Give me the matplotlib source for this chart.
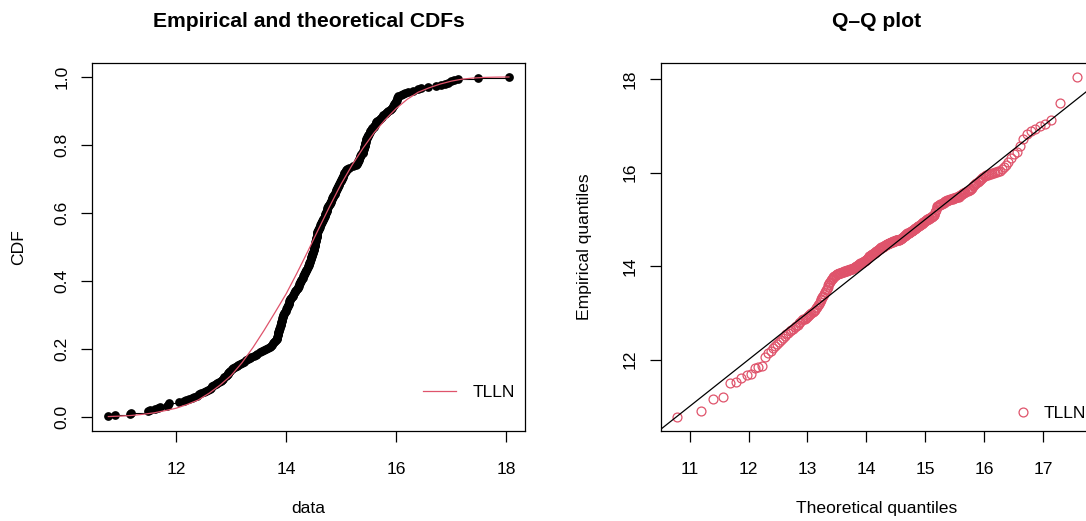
import numpy as np
import matplotlib
matplotlib.use("Agg")
import matplotlib.pyplot as plt

plt.rcParams["font.family"] = ["Liberation Sans", "DejaVu Sans"]

red = "#DF536B"

# sorted sample (read from the ECDF / Q-Q points)
data = [
    10.77, 10.89, 11.16, 11.19, 11.49, 11.52, 11.61, 11.68, 11.70, 11.83,
    11.85, 11.87, 12.05, 12.14, 12.19, 12.24, 12.29, 12.33, 12.38, 12.42,
    12.46, 12.50, 12.54, 12.58, 12.61, 12.63, 12.66, 12.69, 12.72, 12.75,
    12.78, 12.81, 12.84, 12.86, 12.88, 12.90, 12.92, 12.94, 12.95, 12.97,
    12.99, 13.02, 13.04, 13.07, 13.10, 13.13, 13.17, 13.20, 13.23, 13.27,
    13.30, 13.34, 13.37, 13.41, 13.45, 13.48, 13.52, 13.56, 13.59, 13.63,
    13.67, 13.70, 13.72, 13.74, 13.76, 13.78, 13.80, 13.81, 13.83, 13.84,
    13.84, 13.85, 13.85, 13.86, 13.86, 13.87, 13.87, 13.88, 13.89, 13.89,
    13.90, 13.90, 13.91, 13.91, 13.92, 13.92, 13.93, 13.94, 13.94, 13.95,
    13.96, 13.97, 13.98, 13.99, 14.00, 14.01, 14.02, 14.03, 14.04, 14.05,
    14.06, 14.06, 14.07, 14.08, 14.09, 14.10, 14.12, 14.13, 14.14, 14.16,
    14.17, 14.18, 14.19, 14.21, 14.22, 14.23, 14.24, 14.25, 14.26, 14.27,
    14.28, 14.29, 14.30, 14.31, 14.32, 14.33, 14.34, 14.35, 14.36, 14.37,
    14.38, 14.39, 14.40, 14.41, 14.42, 14.42, 14.43, 14.44, 14.45, 14.45,
    14.46, 14.47, 14.47, 14.48, 14.49, 14.49, 14.50, 14.50, 14.51, 14.51,
    14.52, 14.52, 14.53, 14.53, 14.54, 14.54, 14.55, 14.55, 14.56, 14.56,
    14.56, 14.57, 14.57, 14.58, 14.58, 14.59, 14.60, 14.61, 14.62, 14.63,
    14.64, 14.65, 14.66, 14.67, 14.68, 14.69, 14.70, 14.70, 14.71, 14.72,
    14.73, 14.74, 14.75, 14.75, 14.76, 14.77, 14.78, 14.79, 14.80, 14.81,
    14.82, 14.83, 14.84, 14.85, 14.86, 14.87, 14.88, 14.89, 14.90, 14.91,
    14.92, 14.93, 14.94, 14.95, 14.96, 14.97, 14.98, 14.99, 15.00, 15.01,
    15.02, 15.03, 15.04, 15.05, 15.06, 15.07, 15.08, 15.09, 15.10, 15.15,
    15.21, 15.27, 15.28, 15.29, 15.30, 15.31, 15.32, 15.33, 15.34, 15.35,
    15.36, 15.37, 15.39, 15.40, 15.40, 15.41, 15.42, 15.42, 15.43, 15.43,
    15.44, 15.44, 15.45, 15.45, 15.46, 15.47, 15.47, 15.48, 15.49, 15.51,
    15.52, 15.53, 15.55, 15.56, 15.57, 15.59, 15.60, 15.61, 15.63, 15.64,
    15.66, 15.68, 15.71, 15.73, 15.75, 15.77, 15.80, 15.82, 15.84, 15.86,
    15.88, 15.91, 15.93, 15.95, 15.96, 15.97, 15.98, 15.99, 16.00, 16.01,
    16.02, 16.03, 16.04, 16.08, 16.12, 16.17, 16.22, 16.31, 16.40, 16.45,
    16.58, 16.73, 16.82, 16.89, 16.94, 17.00, 17.05, 17.12, 17.49, 18.05,
]

# fitted TLLN cdf
theo_x = [10.77, 11.0, 11.2, 11.4, 11.6, 11.8, 12.0, 12.2, 12.4, 12.6,
          12.8, 13.0, 13.2, 13.4, 13.6, 13.8, 14.0, 14.2, 14.4, 14.6,
          14.8, 15.0, 15.2, 15.4, 15.6, 15.8, 16.0, 16.2, 16.4, 16.6,
          16.8, 17.0, 17.2, 17.4, 17.6, 17.8, 18.05]
theo_p = [0.0016, 0.003, 0.005, 0.0083, 0.0125, 0.019, 0.026, 0.037, 0.050, 0.070,
          0.094, 0.122, 0.160, 0.205, 0.255, 0.308, 0.362, 0.424, 0.489, 0.556,
          0.622, 0.685, 0.741, 0.791, 0.836, 0.874, 0.907, 0.934, 0.955, 0.968,
          0.979, 0.9875, 0.9935, 0.9967, 0.9985, 0.9993, 0.9998]

data = np.array(data)
n = len(data)
ecdf = np.arange(1, n + 1) / n
pp = (np.arange(1, n + 1) - 0.5) / n
theo_q = np.interp(pp, theo_p, theo_x)


def rlim(lo, hi):
    d = (hi - lo) * 0.04
    return lo - d, hi + d


def style(ax):
    for s in ax.spines.values():
        s.set_linewidth(0.9)
        s.set_color("black")
    ax.tick_params(direction="out", length=7.6, width=0.9, labelsize=12.6,
                   colors="black")
    ax.tick_params(axis="x", pad=15)
    ax.tick_params(axis="y", pad=9, labelrotation=90)
    for lab in ax.get_yticklabels():
        lab.set_va("center")


fig = plt.figure(figsize=(10.86, 5.21), dpi=100)
ax1 = fig.add_axes([0.085, 0.1733, 0.3984, 0.7052])
ax2 = fig.add_axes([0.6084, 0.1733, 0.3984, 0.7052])

# ---- Empirical and theoretical CDFs
ax1.hlines(ecdf[:-1], data[:-1], data[1:], color="black", lw=0.8)
ax1.plot(data, ecdf, "o", color="black", ms=6.3, mew=0)
ax1.plot(theo_x, theo_p, color=red, lw=0.9, label="TLLN")
ax1.set_xlim(*rlim(data.min(), data.max()))
ax1.set_ylim(*rlim(0, 1))
ax1.set_xticks([12, 14, 16, 18])
ax1.set_yticks([0, 0.2, 0.4, 0.6, 0.8, 1.0])
ax1.set_yticklabels(["0.0", "0.2", "0.4", "0.6", "0.8", "1.0"])
style(ax1)
ax1.set_title("Empirical and theoretical CDFs", fontsize=15.2,
              fontweight="bold", pad=26)
ax1.set_xlabel("data", fontsize=12.6, labelpad=17)
ax1.set_ylabel("CDF", fontsize=12.6, labelpad=20)
ax1.legend(loc="center left", bbox_to_anchor=(0.764, 0.103), frameon=False,
           fontsize=12.6, handlelength=1.9, handletextpad=0.97,
           borderpad=0, borderaxespad=0)

# ---- Q-Q plot
ax2.plot(theo_q, data, "o", mfc="none", mec=red, ms=6.4, mew=0.9,
         label="TLLN")
ax2.axline((12, 12), slope=1, color="black", lw=0.9)
ax2.set_xlim(*rlim(theo_q.min(), theo_q.max()))
ax2.set_ylim(*rlim(data.min(), data.max()))
ax2.set_xticks([11, 12, 13, 14, 15, 16, 17])
ax2.set_yticks([12, 14, 16, 18])
style(ax2)
ax2.set_title("Q\u2013Q plot", fontsize=15.2, fontweight="bold", pad=26)
ax2.set_xlabel("Theoretical quantiles", fontsize=12.6, labelpad=17)
ax2.set_ylabel("Empirical quantiles", fontsize=12.6, labelpad=22)
ax2.legend(loc="center left", bbox_to_anchor=(0.818, 0.048), frameon=False,
           fontsize=12.6, handlelength=1.0, handletextpad=0.64, numpoints=1,
           borderpad=0, borderaxespad=0)

fig.savefig("out.png", dpi=100)
